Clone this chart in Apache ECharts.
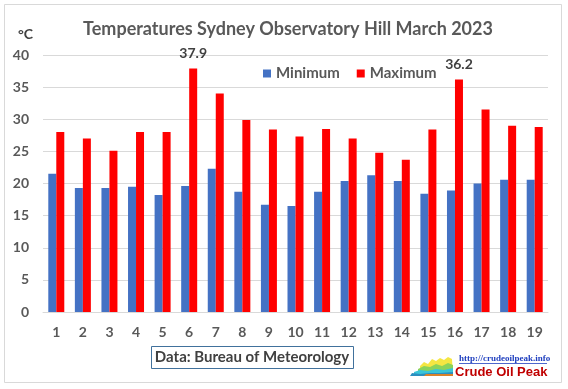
<!DOCTYPE html>
<html><head><meta charset="utf-8">
<script src="https://cdn.jsdelivr.net/npm/echarts@6/dist/echarts.min.js"></script>
<style>html,body{margin:0;padding:0;background:#fff}#c{width:568px;height:389px}</style>
</head><body><div id="c"></div>
<script>
const days = ['1','2','3','4','5','6','7','8','9','10','11','12','13','14','15','16','17','18','19'];
const minimum = [21.5,19.3,19.3,19.5,18.2,19.6,22.3,18.7,16.7,16.5,18.7,20.4,21.3,20.4,18.4,18.9,20.0,20.6,20.6];
const maximum = [28.0,27.0,25.1,28.0,28.0,37.9,34.0,29.9,28.4,27.3,28.5,27.0,24.8,23.7,28.4,36.2,31.5,29.0,28.8];
const labelledDays = ['6','16'];
const yTicks = {min:0, max:40, interval:5};

const FONT = 'Lato, "Open Sans", "Liberation Sans", sans-serif';
const chart = echarts.init(document.getElementById('c'), null, {renderer:'canvas'});
const maxData = maximum.map((v,i)=> labelledDays.includes(days[i]) ?
  {value:v, label:{show:true, position:'top', distance:8, color:'#404040', fontWeight:'bold', fontSize:14, fontFamily:FONT}} : v);

chart.setOption({
  animation:false,
  backgroundColor:'#fff',
  title:{text:'Temperatures Sydney Observatory Hill March 2023', left:283, textAlign:'center', top:15,
    textStyle:{color:'#595959', fontSize:18, fontWeight:'bold', fontFamily:FONT}},
  legend:{left:263, top:66, padding:0, itemWidth:8, itemHeight:8, itemGap:17, icon:'rect',
    textStyle:{color:'#595959', fontSize:15, fontWeight:'bold', fontFamily:FONT},
    data:['Minimum','Maximum']},
  grid:{left:43, right:20, top:55, bottom:77},
  xAxis:{type:'category', data:days, axisTick:{show:false},
    axisLine:{lineStyle:{color:'#d9d9d9'}},
    axisLabel:{color:'#595959', fontSize:14, fontWeight:'bold', fontFamily:FONT, margin:13}},
  yAxis:{type:'value', min:yTicks.min, max:yTicks.max, interval:yTicks.interval,
    name:'°C', nameLocation:'end', nameGap:14, nameTextStyle:{color:'#404040', fontSize:14, fontWeight:'bold', fontFamily:FONT, align:'right', padding:[0,10,0,0]},
    axisLine:{show:false}, axisTick:{show:false},
    splitLine:{lineStyle:{color:'#d9d9d9'}},
    axisLabel:{color:'#595959', fontSize:14, fontWeight:'bold', fontFamily:FONT, margin:14}},
  series:[
    {name:'Minimum', type:'bar', data:minimum, barWidth:8, barGap:'0%', itemStyle:{color:'#4472C4'}},
    {name:'Maximum', type:'bar', data:maxData, barWidth:8, barGap:'0%', itemStyle:{color:'#FF0000'}}
  ],
  graphic:[
    {type:'rect', shape:{x:4.5,y:4.5,width:557,height:378}, style:{fill:'none', stroke:'#d9d9d9', lineWidth:1}, z:-1},
    {type:'rect', shape:{x:151.5,y:346.5,width:202,height:22}, style:{fill:'#fff', stroke:'#41719C', lineWidth:1}},
    {type:'text', x:252, y:357.5, style:{text:'Data: Bureau of Meteorology', fill:'#404040', font:'bold 15px '+FONT, textAlign:'center', textVerticalAlign:'middle'}},
    {type:'text', x:459, y:359, style:{text:'http://crudeoilpeak.info', fill:'#1F3FBF', font:'bold 9px "Liberation Serif", serif', textVerticalAlign:'middle'}},
    {type:'line', shape:{x1:459,y1:363.5,x2:547,y2:363.5}, style:{stroke:'#1F3FBF', lineWidth:0.8}},
    {type:'text', x:455, y:372, style:{text:'Crude Oil Peak', fill:'#C00000', font:'bold 13px "Liberation Sans", Arial, sans-serif', textVerticalAlign:'middle'}},
    {type:'polygon', shape:{points:[[420,376],[420,366],[424,362],[428,364],[432,359],[436,361],[440,358],[444,360],[448,357],[452,359],[453,376]]}, style:{fill:'#F5E642'}},
    {type:'polygon', shape:{points:[[418,376],[418,369],[424,366],[430,367],[436,364],[442,366],[448,363],[453,365],[453,376]]}, style:{fill:'#8CD35A'}},
    {type:'polygon', shape:{points:[[414,376],[414,372],[420,370],[428,371],[436,369],[444,370],[453,368],[453,376]]}, style:{fill:'#39C5D9'}},
    {type:'polygon', shape:{points:[[410,376],[412,373],[420,374],[430,373],[440,373],[453,372],[453,376]]}, style:{fill:'#2A8FC0'}},
    {type:'polygon', shape:{points:[[424,376],[426,374],[436,374],[446,374],[453,374],[453,376]]}, style:{fill:'#D9822B'}}
  ]
});
</script></body></html>
